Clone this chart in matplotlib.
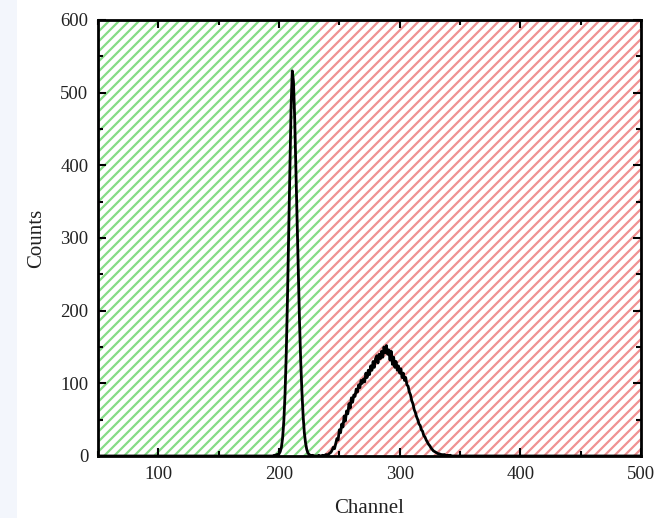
"""Spectrum counts vs channel with hatched acceptance windows."""

import matplotlib

matplotlib.use("Agg")
import matplotlib.pyplot as plt
from matplotlib.backend_bases import GraphicsContextBase
from matplotlib.patches import Rectangle
from matplotlib.ticker import MultipleLocator

# --- Data ---
peak_channels = list(range(195, 241))
peak_counts = [
    0, 1, 0, 2, 1, 3, 6, 12, 25, 48,
    85, 140, 215, 305, 400, 480, 530, 515, 465, 395,
    320, 250, 185, 130, 88, 55, 32, 18, 9, 4,
    2, 1, 0, 1, 0, 0, 0, 0, 1, 0,
    0, 1, 0, 1, 2, 1,
]

hump_channels = list(range(241, 346))
hump_counts = [
    2, 4, 5, 8, 12, 10, 17, 24, 22, 36,
    32, 44, 40, 55, 48, 62, 58, 72, 66, 80,
    74, 84, 82, 92, 88, 98, 94, 104, 100, 106,
    102, 114, 108, 118, 112, 124, 118, 130, 122, 134,
    138, 128, 140, 134, 144, 136, 150, 142, 152, 140,
    146, 132, 144, 126, 136, 122, 130, 118, 124, 114,
    120, 108, 114, 104, 108, 98, 96, 88, 84, 76,
    72, 64, 60, 54, 50, 44, 42, 36, 34, 28,
    26, 22, 19, 16, 14, 11, 9, 7, 6, 5,
    4, 3, 3, 2, 2, 1, 2, 1, 0, 1,
    0, 1, 0, 0, 0,
]

# flat baseline either side of the measured region
baseline_left = ([50, 194], [0, 0])
baseline_right = ([346, 500], [0, 0])

window_edges = [50, 234, 500]
window_colors = ["#86db86", "#ef9292"]

x_ticks = [100, 200, 300, 400, 500]
y_ticks = [0, 100, 200, 300, 400, 500, 600]

channels = baseline_left[0] + peak_channels + hump_channels + baseline_right[0]
counts = baseline_left[1] + peak_counts + hump_counts + baseline_right[1]

# --- Figure ---
plt.rcParams["font.family"] = ["Liberation Serif", "DejaVu Serif"]
plt.rcParams["hatch.linewidth"] = 1.6
# slightly looser hatch spacing than the default (20 lines per inch for "////")
GraphicsContextBase.get_hatch_path.__defaults__ = (5.0,)

fig = plt.figure(figsize=(6.59, 5.18), dpi=100)
fig.patches.append(
    Rectangle((0, 0), 17 / 659, 1, transform=fig.transFigure,
              facecolor="#f3f6fc", edgecolor="none", zorder=0)
)
ax = fig.add_axes([0.1487, 0.1197, 0.824, 0.8417])

# --- Hatched windows ---
for (lo, hi), col in zip(zip(window_edges[:-1], window_edges[1:]), window_colors):
    ax.axvspan(lo, hi, facecolor="none", edgecolor=col, hatch="////",
               linewidth=0, zorder=1)

ax.plot(channels, counts, color="black", linewidth=2.0, zorder=3)

# --- Axes ---
ax.set_xlim(50, 500)
ax.set_ylim(0, 600)
ax.set_xticks(x_ticks)
ax.set_yticks(y_ticks)
ax.xaxis.set_minor_locator(MultipleLocator(50))
ax.yaxis.set_minor_locator(MultipleLocator(50))
ax.tick_params(which="both", direction="in", top=True, right=True,
               width=1.5, labelsize=13.5, labelcolor="#222222")
ax.tick_params(which="major", length=6, pad=7)
ax.tick_params(which="minor", length=3.5)
for spine in ax.spines.values():
    spine.set_linewidth(2)

ax.set_xlabel("Channel", fontsize=15, labelpad=12, color="#222222")
ax.set_ylabel("Counts", fontsize=15, labelpad=10, color="#222222")

fig.savefig("out.png", dpi=100)
